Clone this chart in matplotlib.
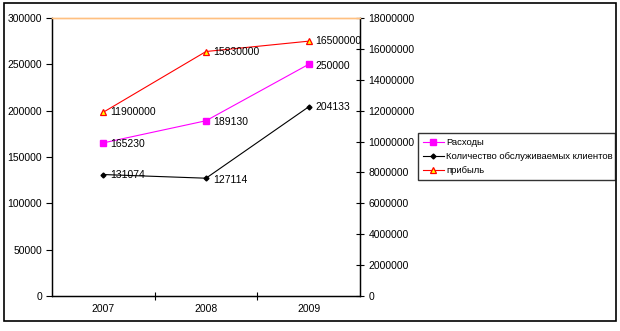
import matplotlib
matplotlib.use("Agg")
import matplotlib.pyplot as plt
from matplotlib.patches import Rectangle

plt.rcParams['font.family'] = ['Liberation Sans', 'DejaVu Sans']

years = ['2007', '2008', '2009']
expenses = [165230, 189130, 250000]
clients = [131074, 127114, 204133]
profit = [11900000, 15830000, 16500000]

left_ticks = [0, 50000, 100000, 150000, 200000, 250000, 300000]
right_ticks = [0, 2000000, 4000000, 6000000, 8000000, 10000000,
               12000000, 14000000, 16000000, 18000000]

fig = plt.figure(figsize=(6.2, 3.31), dpi=100)
fig.patch.set_facecolor('white')

# outer frame of the chart
fig.patches.append(Rectangle((4 / 620, 10 / 331), 612 / 620, 318 / 331,
                             transform=fig.transFigure, fill=False,
                             edgecolor='black', linewidth=1.2))

ax = fig.add_axes([52 / 620, 35 / 331, 308 / 620, 278 / 331])
ax2 = ax.twinx()

x = list(range(len(years)))

l1, = ax.plot(x, expenses, color='#FF00FF', linewidth=0.8, marker='s',
              markersize=4.5, markerfacecolor='#FF00FF', markeredgecolor='#FF00FF',
              label='Расходы')
l2, = ax.plot(x, clients, color='black', linewidth=0.8, marker='D',
              markersize=2.5, label='Количество обслуживаемых клиентов')
l3, = ax2.plot(x, profit, color='red', linewidth=0.8, marker='^',
               markersize=5, markerfacecolor='yellow', markeredgecolor='red',
               markeredgewidth=0.9, label='прибыль')

ax.set_xlim(-0.5, 2.5)
ax.set_ylim(0, 300000)
ax2.set_ylim(0, 18000000)

ax.set_yticks(left_ticks)
ax.set_yticklabels([str(v) for v in left_ticks])
ax2.set_yticks(right_ticks)
ax2.set_yticklabels([str(v) for v in right_ticks])

ax.set_xticks(x)
ax.set_xticklabels(years)
ax.set_xticks([0.5, 1.5], minor=True)
ax.tick_params(axis='x', which='major', length=0, labelsize=7.5, pad=6)
ax.tick_params(axis='x', which='minor', length=6, direction='inout', width=0.8)
ax.tick_params(axis='y', labelsize=7.5, length=4, width=0.8, direction='out', pad=3)
ax2.tick_params(axis='y', labelsize=7.5, length=6, width=0.8, direction='inout', pad=3)

for a in (ax, ax2):
    a.spines['top'].set_color('#FFC080')
    a.spines['top'].set_linewidth(1.0)
    a.spines['left'].set_linewidth(0.9)
    a.spines['bottom'].set_linewidth(0.9)
    a.spines['right'].set_linewidth(0.9)

# data labels
for i, v in enumerate(expenses):
    ax.annotate(str(v), (x[i], v), xytext=(5, -1), textcoords='offset points',
                ha='left', va='center', fontsize=7.5)
client_offsets = [(5, 0), (5, -1.5), (5, 0)]
for i, v in enumerate(clients):
    ax.annotate(str(v), (x[i], v), xytext=client_offsets[i], textcoords='offset points',
                ha='left', va='center', fontsize=7.5)
for i, v in enumerate(profit):
    ax2.annotate(str(v), (x[i], v), xytext=(5, 0), textcoords='offset points',
                 ha='left', va='center', fontsize=7.5)

leg = fig.legend(handles=[l1, l2, l3], loc='lower left',
                 bbox_to_anchor=(418 / 620, 151 / 331, 197 / 620, 47 / 331),
                 mode='expand', fontsize=6.8, frameon=True, fancybox=False,
                 borderpad=0.5, labelspacing=0.55, handlelength=2.2,
                 handletextpad=0.3, borderaxespad=0)
leg.get_frame().set_edgecolor('black')
leg.get_frame().set_linewidth(1.0)

fig.savefig('out.png', dpi=100)
